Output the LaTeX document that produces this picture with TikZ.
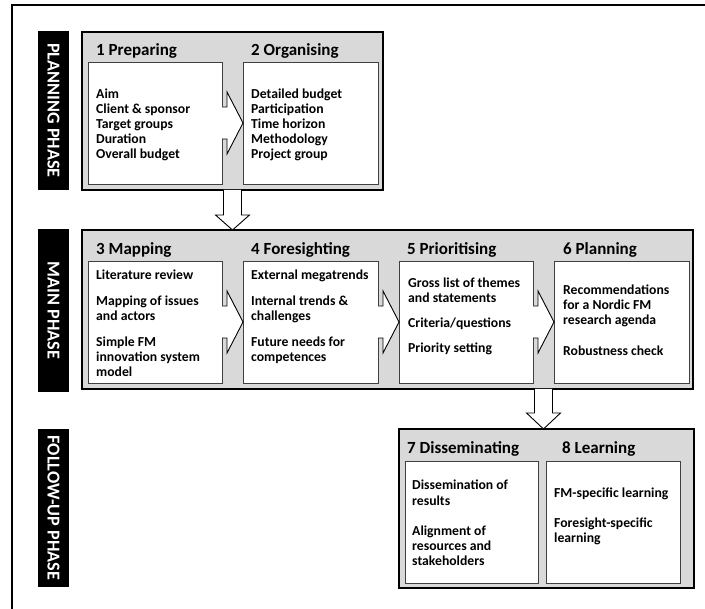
\documentclass[tikz,border=0pt]{standalone}
\usepackage{fontspec}
\setmainfont{Carlito}
\usetikzlibrary{calc}
\definecolor{panelgray}{HTML}{D9D9D9}
\definecolor{boxline}{HTML}{404040}
\newcommand\myrarrow[2]{%
  \fill[white] ($(#1.east)+(-1.5,-16)$) -- ($(#1.east)+(5,-16)$) -- ($(#1.east)+(5,-31)$) -- (#2.west) -- ($(#1.east)+(5,31)$) -- ($(#1.east)+(5,16)$) -- ($(#1.east)+(-1.5,16)$) -- cycle;
  \draw[blockarrow] ($(#1.east)+(0,-16)$) -- ($(#1.east)+(5,-16)$) -- ($(#1.east)+(5,-31)$) -- (#2.west) -- ($(#1.east)+(5,31)$) -- ($(#1.east)+(5,16)$) -- ($(#1.east)+(0,16)$);
}
\newcommand\mydarrow[3]{% #1 top coordinate, #2 target node, #3 shaft length
  \coordinate (#1tip) at (#1 |- #2.north);
  \filldraw[blockarrow] ($(#1)+(-9,0)$) -- ($(#1)+(-9,#3)$) -- ($(#1)+(-17,#3)$) -- (#1tip) -- ($(#1)+(17,#3)$) -- ($(#1)+(9,#3)$) -- ($(#1)+(9,0)$);
}
\begin{document}
\begin{tikzpicture}[x=1pt,y=-1pt,
  graybox/.style={draw=black, line width=1.4pt, fill=panelgray, inner sep=0pt, outer sep=0pt, anchor=north west},
  whitebox/.style={draw=boxline, line width=0.9pt, fill=white, inner sep=0pt, outer sep=0pt, anchor=north west, minimum height=122pt},
  phaselabel/.style={fill=black, text=white, font=\bfseries\fontsize{18.2}{20}\selectfont, rotate=-90, inner sep=0pt, minimum height=31pt},
  titletext/.style={anchor=base west, inner sep=0pt, font=\bfseries\fontsize{17}{20}\selectfont},
  item/.style={anchor=base west, inner sep=0pt, font=\bfseries\fontsize{13.7}{15}\selectfont},
  blockarrow/.style={draw=black, line width=0.9pt, fill=white, line join=miter}
]
\useasboundingbox (0,0) rectangle (705,609);
% outer frame (cropped)
\coordinate (frR) at (706,5.5);
\coordinate (frC) at (12,5.5);
\coordinate (frB) at (12,610);
\draw[line width=2pt] (frR) -- (frC) -- (frB);

% phase labels
\node[phaselabel, minimum width=159pt] (lplan) at (53.5,110.5) {PLANNING PHASE};
\node[phaselabel, minimum width=163pt] (lmain) at (53.5,310.5) {MAIN PHASE};
\node[phaselabel, minimum width=158pt] (lfollow) at (53.5,508) {FOLLOW-UP PHASE};

% gray panels
\node[graybox, minimum width=301pt, minimum height=158pt] (plan) at (82,32) {};
\node[graybox, minimum width=611pt, minimum height=159pt] (main) at (82,230) {};
\node[graybox, minimum width=295pt, minimum height=159pt] (follow) at (399,429) {};

% white boxes
\node[whitebox, minimum width=134pt] (b1) at (88,62) {};
\node[whitebox, minimum width=135pt] (b2) at (243,62) {};
\node[whitebox, minimum width=134pt] (b3) at (88,261) {};
\node[whitebox, minimum width=135pt] (b4) at (243,261) {};
\node[whitebox, minimum width=134pt] (b5) at (399,261) {};
\node[whitebox, minimum width=135pt] (b6) at (554,261) {};
\node[whitebox, minimum width=133pt] (b7) at (405,461) {};
\node[whitebox, minimum width=134pt] (b8) at (546,461) {};

% titles
\node[titletext] (t1) at (96,56) {1 Preparing};
\node[titletext] (t2) at (251,56) {2 Organising};
\node[titletext] (t3) at (96,254.5) {3 Mapping};
\node[titletext] (t4) at (251,254.5) {4 Foresighting};
\node[titletext] (t5) at (407,254.5) {5 Prioritising};
\node[titletext] (t6) at (563,254.5) {6 Planning};
\node[titletext] (t7) at (407,453.5) {7 Disseminating};
\node[titletext] (t8) at (562,453.5) {8 Learning};

% items
\foreach \yy/\txt [count=\i] in {98.5/Aim, 113.5/Client \& sponsor, 128.5/Target groups, 143.5/Duration, 158.5/Overall budget}
  \node[item] (i1-\i) at (96,\yy) {\txt};
\foreach \yy/\txt [count=\i] in {98.5/Detailed budget, 113.5/Participation, 128.5/Time horizon, 143.5/Methodology, 158.5/Project group}
  \node[item] (i2-\i) at (251,\yy) {\txt};
\foreach \yy/\txt [count=\i] in {279.5/Literature review, 305.5/Mapping of issues, 320.5/and actors, 346.5/Simple FM, 361.5/innovation system, 376.5/model}
  \node[item] (i3-\i) at (96,\yy) {\txt};
\foreach \yy/\txt [count=\i] in {279.5/External megatrends, 305.5/Internal trends \&, 320.5/challenges, 346.5/Future needs for, 361.5/competences}
  \node[item] (i4-\i) at (251,\yy) {\txt};
\foreach \yy/\txt [count=\i] in {287.5/Gross list of themes, 302.5/and statements, 327.5/{Criteria/questions}, 352.5/Priority setting}
  \node[item] (i5-\i) at (408,\yy) {\txt};
\foreach \yy/\txt [count=\i] in {294.5/Recommendations, 309.5/for a Nordic FM, 324.5/research agenda, 355.5/Robustness check}
  \node[item] (i6-\i) at (563,\yy) {\txt};
\foreach \yy/\txt [count=\i] in {489.5/Dissemination of, 505.5/results, 535.5/Alignment of, 550.5/resources and, 565.5/stakeholders}
  \node[item] (i7-\i) at (412,\yy) {\txt};
\foreach \yy/\txt [count=\i] in {497.5/FM-specific learning, 527.5/Foresight-specific, 542.5/learning}
  \node[item] (i8-\i) at (554,\yy) {\txt};

% arrows between steps
\myrarrow{b1}{b2}
\myrarrow{b3}{b4}
\myrarrow{b4}{b5}
\myrarrow{b5}{b6}

% arrows between phases
\coordinate (mA) at ($(b1.south east)!0.5!(b2.south west)$);
\coordinate (mB) at ($(b5.south east)!0.5!(b6.south west)$);
\coordinate (dA) at (mA |- plan.south);
\coordinate (dB) at (mB |- main.south);
\mydarrow{dA}{main}{25}
\mydarrow{dB}{follow}{24}
\end{tikzpicture}
\end{document}
